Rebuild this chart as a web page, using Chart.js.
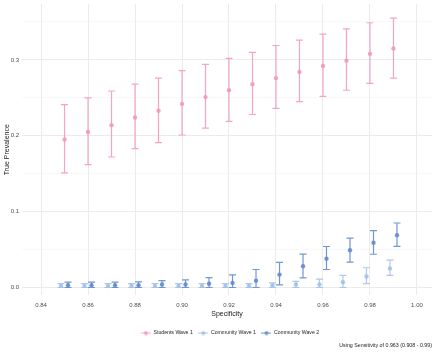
<!DOCTYPE html>
<html>
<head>
<meta charset="utf-8">
<script src="https://cdn.jsdelivr.net/npm/chart.js@4.4.1/dist/chart.umd.min.js"></script>
<style>
html, body { margin: 0; padding: 0; background: #fff; }
</style>
</head>
<body>
<canvas id="myChart" width="440" height="352"></canvas>
<script>
// specificity values on the x axis
var specificity = [0.85, 0.86, 0.87, 0.88, 0.89, 0.90, 0.91, 0.92, 0.93, 0.94, 0.95, 0.96, 0.97, 0.98, 0.99];

// Students Wave 1
var studentsEst  = [0.195, 0.205, 0.214, 0.224, 0.233, 0.242, 0.251, 0.260, 0.268, 0.276, 0.284, 0.292, 0.299, 0.308, 0.315];
var studentsLow  = [0.151, 0.162, 0.172, 0.183, 0.191, 0.201, 0.210, 0.219, 0.228, 0.236, 0.245, 0.252, 0.260, 0.269, 0.276];
var studentsHigh = [0.241, 0.250, 0.259, 0.268, 0.276, 0.286, 0.294, 0.302, 0.310, 0.319, 0.326, 0.334, 0.341, 0.349, 0.355];

// Community Wave 1
var comm1Est  = [0.002, 0.002, 0.002, 0.002, 0.002, 0.002, 0.002, 0.002, 0.002, 0.003, 0.004, 0.004, 0.007, 0.0145, 0.025];
var comm1Low  = [0, 0, 0, 0, 0, 0, 0, 0, 0, 0, 0, 0, 0, 0.005, 0.016];
var comm1High = [0.005, 0.005, 0.005, 0.005, 0.005, 0.005, 0.005, 0.005, 0.005, 0.006, 0.008, 0.011, 0.016, 0.026, 0.036];

// Community Wave 2
var comm2Est  = [0.003, 0.003, 0.003, 0.003, 0.004, 0.004, 0.005, 0.006, 0.009, 0.017, 0.028, 0.038, 0.049, 0.059, 0.069];
var comm2Low  = [0, 0, 0, 0, 0, 0, 0, 0, 0, 0.0035, 0.0127, 0.0237, 0.0333, 0.0438, 0.0543];
var comm2High = [0.007, 0.007, 0.007, 0.0075, 0.009, 0.010, 0.013, 0.0167, 0.0237, 0.033, 0.044, 0.054, 0.065, 0.075, 0.085];

var seriesNames = ['Students Wave 1', 'Community Wave 1', 'Community Wave 2'];
var footNote = 'Using Sensitivity of 0.963 (0.908 - 0.99)';

var colStudents = 'rgba(243,150,176,0.85)';
var colComm1 = 'rgba(160,190,233,0.85)';
var colComm2 = 'rgba(100,140,204,0.9)';
var dodge = 0.0015; // side-by-side shift of the groups

var fontFam = "'Liberation Sans', Arial, sans-serif";

function makePoints(est, shift) {
  return specificity.map(function (s, i) { return { x: s + shift, y: est[i] }; });
}

// little legend key: line with a dot
function makeKey(color) {
  var c = document.createElement('canvas');
  c.width = 10; c.height = 5;
  var g = c.getContext('2d');
  g.strokeStyle = color; g.lineWidth = 1;
  g.beginPath(); g.moveTo(0, 2.5); g.lineTo(10, 2.5); g.stroke();
  g.fillStyle = color;
  g.beginPath(); g.arc(5, 2.5, 2, 0, Math.PI * 2); g.fill();
  return c;
}
var keyIcons = [makeKey(colStudents), makeKey(colComm1), makeKey(colComm2)];

// draw the error bars under each dataset's points
var errorBars = {
  id: 'errorBars',
  beforeDatasetDraw: function (chart, args) {
    var ds = chart.data.datasets[args.index];
    var meta = args.meta;
    var yScale = chart.scales.y;
    var ctx = chart.ctx;
    ctx.save();
    ctx.strokeStyle = ds.borderColor;
    ctx.lineWidth = 1.2;
    meta.data.forEach(function (pt, i) {
      var x = pt.x;
      var yl = yScale.getPixelForValue(ds.errLow[i]);
      var yh = yScale.getPixelForValue(ds.errHigh[i]);
      ctx.beginPath();
      ctx.moveTo(x, yl); ctx.lineTo(x, yh);
      ctx.moveTo(x - 3.5, yl); ctx.lineTo(x + 3.5, yl);
      ctx.moveTo(x - 3.5, yh); ctx.lineTo(x + 3.5, yh);
      ctx.stroke();
    });
    ctx.restore();
  }
};

// nudge the legend a bit right and down, like the original
var legendShift = {
  id: 'legendShift',
  afterLayout: function (chart) {
    chart.legend.left += 14;
    chart.legend.right += 14;
    chart.legend.top += 3.5;
    chart.legend.bottom += 3.5;
  }
};

var ctx = document.getElementById('myChart').getContext('2d');
var chart = new Chart(ctx, {
  type: 'scatter',
  data: {
    datasets: [{
      label: seriesNames[0],
      data: makePoints(studentsEst, 0),
      errLow: studentsLow, errHigh: studentsHigh,
      backgroundColor: colStudents, borderColor: colStudents,
      pointRadius: 2.2, pointBorderWidth: 0
    }, {
      label: seriesNames[1],
      data: makePoints(comm1Est, -dodge),
      errLow: comm1Low, errHigh: comm1High,
      backgroundColor: colComm1, borderColor: colComm1,
      pointRadius: 2.2, pointBorderWidth: 0
    }, {
      label: seriesNames[2],
      data: makePoints(comm2Est, dodge),
      errLow: comm2Low, errHigh: comm2High,
      backgroundColor: colComm2, borderColor: colComm2,
      pointRadius: 2.2, pointBorderWidth: 0
    }]
  },
  options: {
    responsive: false,
    animation: false,
    devicePixelRatio: 1,
    layout: { padding: { top: 3, right: 8, left: 0, bottom: 0 } },
    plugins: {
      tooltip: { enabled: false },
      legend: {
        position: 'bottom',
        labels: {
          usePointStyle: true,
          pointStyleWidth: 10,
          padding: 5.5,
          color: '#222',
          font: { family: fontFam, size: 5.2 },
          generateLabels: function (chart) {
            var items = Chart.defaults.plugins.legend.labels.generateLabels(chart);
            items.forEach(function (it) { it.pointStyle = keyIcons[it.datasetIndex]; });
            return items;
          }
        }
      },
      title: {
        display: true,
        position: 'bottom',
        align: 'end',
        text: footNote,
        color: '#222',
        font: { family: fontFam, size: 5.3, weight: 'normal' },
        padding: { top: 0, bottom: 3.5 }
      }
    },
    scales: {
      x: {
        type: 'linear',
        min: 0.8319,
        max: 1.0064,
        border: { display: false },
        grid: { color: '#ebebeb', lineWidth: 1, drawTicks: false },
        ticks: {
          stepSize: 0.02,
          includeBounds: false,
          padding: 6.5,
          color: '#4d4d4d',
          font: { family: fontFam, size: 6 },
          maxRotation: 0,
          callback: function (v) { return v.toFixed(2); }
        },
        title: {
          display: true, text: 'Specificity', color: '#222',
          font: { family: fontFam, size: 7 }, padding: { top: 1, bottom: 3.5 }
        },
        afterFit: function (scale) {
          scale.height = 26;
          scale.paddingLeft = 0;
          scale.paddingRight = 0;
        }
      },
      y: {
        min: -0.0105,
        max: 0.3737,
        border: { display: false },
        grid: {
          drawTicks: false,
          color: function (c) {
            var v = Math.round(c.tick.value * 100);
            return v % 10 === 0 ? '#ebebeb' : '#f3f3f3';
          },
          lineWidth: function (c) {
            var v = Math.round(c.tick.value * 100);
            return v % 10 === 0 ? 1 : 0.6;
          }
        },
        ticks: {
          stepSize: 0.05,
          includeBounds: false,
          padding: 3,
          color: '#4d4d4d',
          font: { family: fontFam, size: 6 },
          callback: function (v) {
            var r = Math.round(v * 100);
            return r % 10 === 0 ? v.toFixed(1) : '';
          }
        },
        title: {
          display: true, text: 'True Prevalence', color: '#222',
          font: { family: fontFam, size: 7 }, padding: { top: 3, bottom: 1 }
        },
        afterFit: function (scale) {
          scale.width = 22;
          scale.paddingTop = 0;
          scale.paddingBottom = 0;
        }
      }
    }
  },
  plugins: [errorBars, legendShift]
});
</script>
</body>
</html>
